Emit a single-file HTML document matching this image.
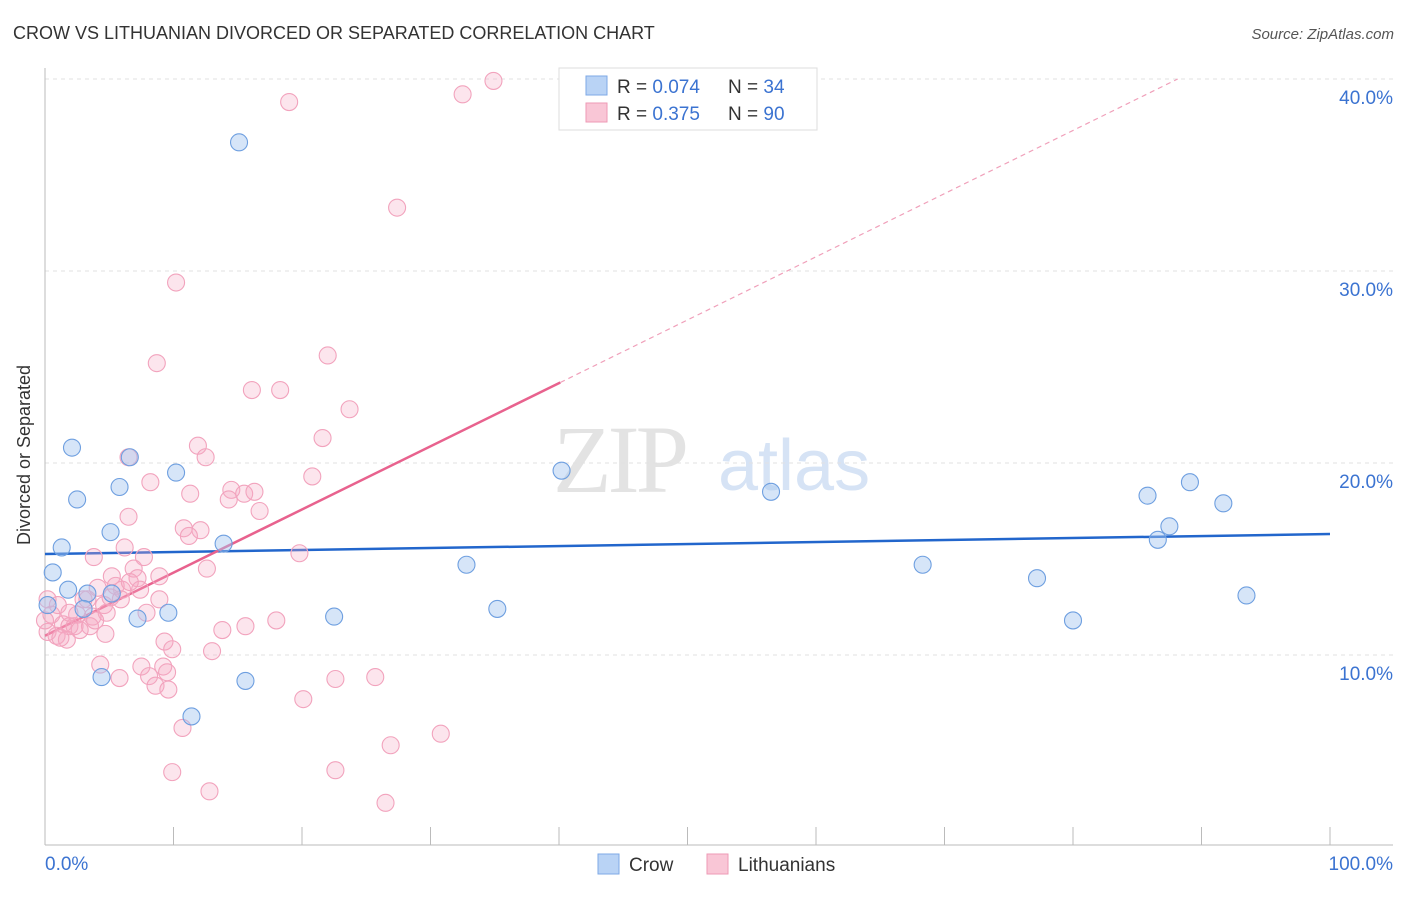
<!DOCTYPE html>
<html><head><meta charset="utf-8"><style>
body{margin:0;background:#fff;font-family:"Liberation Sans",sans-serif;}
</style></head><body>
<svg id="chart" width="1406" height="892" xmlns="http://www.w3.org/2000/svg" style="font-family:'Liberation Sans',sans-serif">
<text x="13" y="39" font-size="18" fill="#333">CROW VS LITHUANIAN DIVORCED OR SEPARATED CORRELATION CHART</text>
<text x="1394" y="39" font-size="15" fill="#555" font-style="italic" text-anchor="end">Source: ZipAtlas.com</text>
<text x="30" y="455" font-size="18" fill="#333" text-anchor="middle" transform="rotate(-90 30 455)">Divorced or Separated</text>
<g>
<text x="553" y="492" font-size="96" fill="#e3e3e3" font-family="Liberation Serif,serif" letter-spacing="-4">ZIP</text>
<text x="718" y="490" font-size="72" fill="#d6e3f5">atlas</text>
</g>
<g id="grid"></g>
<g id="axes"></g>
<g id="lines"></g>
<g id="points"></g>
<g>
<rect x="559" y="68" width="258" height="62" fill="#fff" stroke="#ddd"/>
<rect x="586" y="76" width="21" height="19" fill="#b9d3f5" stroke="#7ea8e6"/>
<rect x="586" y="103" width="21" height="19" fill="#f9c6d6" stroke="#ee9ab5"/>
<text x="617" y="93" font-size="19" fill="#333">R = <tspan fill="#3b73d1">0.074</tspan><tspan x="728">N = </tspan><tspan fill="#3b73d1">34</tspan></text>
<text x="617" y="120" font-size="19" fill="#333">R = <tspan fill="#3b73d1">0.375</tspan><tspan x="728">N = </tspan><tspan fill="#3b73d1">90</tspan></text>
</g>
<g>
<rect x="598" y="854" width="21" height="20" fill="#b9d3f5" stroke="#7ea8e6"/>
<text x="629" y="871" font-size="19" fill="#333">Crow</text>
<rect x="707" y="854" width="21" height="20" fill="#f9c6d6" stroke="#ee9ab5"/>
<text x="738" y="871" font-size="19" fill="#333">Lithuanians</text>
</g>
</svg>
<script>
const yTicks=[10,20,30,40];
const yTickLabels=["10.0%","20.0%","30.0%","40.0%"];
const xTicks=[0,10,20,30,40,50,60,70,80,90,100];
const crowX=[15.1,2.1,2.5,6.6,10.2,5.8,5.1,1.3,13.9,0.6,1.8,3.3,5.2,3.0,9.6,7.2,0.2,22.5,4.4,15.6,11.4,32.8,35.2,40.2,56.5,68.3,77.2,80.0,85.8,89.1,87.5,86.6,91.7,93.5];
const crowY=[36.7,20.8,18.1,20.3,19.5,18.75,16.4,15.6,15.8,14.3,13.4,13.2,13.2,12.4,12.2,11.9,12.6,12.0,8.85,8.65,6.8,14.7,12.4,19.6,18.5,14.7,14.0,11.8,18.3,19.0,16.7,16.0,17.9,13.1];
const litX=[34.9,32.5,19.0,27.4,10.2,22.0,8.7,16.1,18.3,23.7,21.6,11.9,6.5,12.5,20.8,8.2,14.5,15.5,16.3,11.3,14.3,16.7,6.5,10.8,12.1,11.2,6.2,19.8,3.8,7.7,12.6,6.9,8.9,5.2,7.2,4.1,5.5,6.0,3.3,3.0,4.6,7.9,4.8,2.5,0.5,18.0,3.7,1.4,1.9,2.3,3.5,15.6,13.8,0.2,4.7,0.9,1.7,1.2,9.3,9.9,13.0,4.3,7.5,9.2,9.5,8.1,5.8,22.6,25.7,8.6,9.6,20.1,10.7,30.8,26.9,9.9,22.6,12.8,26.5,0.2,0,1.0,2.7,5.1,5.9,3.9,8.9,7.4,6.6,1.9];
const litY=[39.9,39.2,38.8,33.3,29.4,25.6,25.2,23.8,23.8,22.8,21.3,20.9,20.3,20.3,19.3,19.0,18.6,18.4,18.5,18.4,18.1,17.5,17.2,16.6,16.5,16.2,15.6,15.3,15.1,15.1,14.5,14.5,14.1,14.1,14.0,13.5,13.6,13.4,12.9,12.9,12.6,12.2,12.2,12.1,12.1,11.8,12.0,11.6,11.5,11.5,11.5,11.5,11.3,11.2,11.1,11.0,10.8,10.9,10.7,10.3,10.2,9.5,9.4,9.4,9.1,8.9,8.8,8.75,8.85,8.4,8.2,7.7,6.2,5.9,5.3,3.9,4.0,2.9,2.3,12.9,11.8,12.6,11.3,13.0,12.9,11.8,12.9,13.4,13.8,12.2];
const crowTrend=[15.26,16.3];
const litTrend=[11.0,0.329];
const litSolidEnd=40.1;

const NS="http://www.w3.org/2000/svg";
const X0=45,X1=1330,Y0=847,PPY=19.2;
const sx=v=>X0+(X1-X0)*v/100, sy=v=>Y0-v*PPY;
function mk(tag,attrs,parent){const e=document.createElementNS(NS,tag);for(const k in attrs)e.setAttribute(k,attrs[k]);parent.appendChild(e);return e;}
const grid=document.getElementById('grid'),axes=document.getElementById('axes'),lines=document.getElementById('lines'),pts=document.getElementById('points');
yTicks.forEach((t,i)=>{
 const l=mk('line',{x1:45,x2:1393,y1:sy(t),y2:sy(t),stroke:'#e2e2e2','stroke-dasharray':'4,4'},grid);
 
 
 const tx=mk('text',{x:1393,y:sy(t)+25,'font-size':19,fill:'#3b73d1','text-anchor':'end'},axes);
 tx.textContent=yTickLabels[i];
 
 
});
const ax=mk('line',{x1:45,x2:45,y1:68,y2:845,stroke:'#bbb'},axes);


const bx=mk('line',{x1:45,x2:1393,y1:845,y2:845,stroke:'#bbb'},axes);


xTicks.forEach(t=>{
 const l=mk('line',{x1:sx(t),x2:sx(t),y1:827,y2:845,stroke:'#bbb'},axes);
 
 
});
const xl=mk('text',{x:45,y:870,'font-size':19,fill:'#3b73d1'},axes);xl.textContent='0.0%';


const xr=mk('text',{x:1393,y:870,'font-size':19,fill:'#3b73d1','text-anchor':'end'},axes);xr.textContent='100.0%';



litX.forEach((x,i)=>{
 const c=mk('circle',{cx:sx(x),cy:sy(litY[i]),r:8.5,fill:'rgba(246,170,196,0.3)',stroke:'#f2a3bd','stroke-width':1.1},pts);
 
 
});
crowX.forEach((x,i)=>{
 const c=mk('circle',{cx:sx(x),cy:sy(crowY[i]),r:8.5,fill:'rgba(165,198,240,0.45)',stroke:'#6e9fe0','stroke-width':1.1},pts);
 
 
});
const cl=mk('line',{x1:sx(0),y1:sy(crowTrend[0]),x2:sx(100),y2:sy(crowTrend[1]),stroke:'#2266cc','stroke-width':2.5},lines);


const ls=mk('line',{x1:sx(0),y1:sy(litTrend[0]),x2:sx(litSolidEnd),y2:sy(litTrend[0]+litTrend[1]*litSolidEnd),stroke:'#e8628e','stroke-width':2.5},lines);


const xe=(40-litTrend[0])/litTrend[1];
const ld=mk('line',{x1:sx(litSolidEnd),y1:sy(litTrend[0]+litTrend[1]*litSolidEnd),x2:sx(xe),y2:sy(40),stroke:'#f0a0ba','stroke-width':1.2,'stroke-dasharray':'5,4'},lines);


</script>
</body></html>
